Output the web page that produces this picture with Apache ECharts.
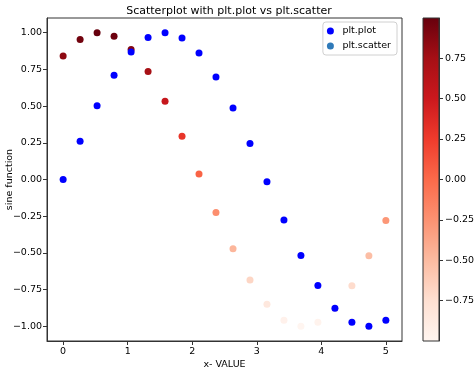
<!DOCTYPE html>
<html><head><meta charset="utf-8">
<script src="https://cdn.jsdelivr.net/npm/echarts@6/dist/echarts.min.js"></script>
<style>html,body{margin:0;padding:0;background:#fff}#c{width:474px;height:371px}</style>
</head><body><div id="c"></div>
<script>
const xValues = [0, 0.263, 0.526, 0.789, 1.053, 1.316, 1.579, 1.842, 2.105, 2.368, 2.632, 2.895, 3.158, 3.421, 3.684, 3.947, 4.211, 4.474, 4.737, 5.0];
const plotValues = [0, 0.260, 0.502, 0.710, 0.869, 0.968, 1.000, 0.964, 0.861, 0.698, 0.487, 0.245, -0.016, -0.276, -0.517, -0.722, -0.877, -0.972, -1.000, -0.959];
const scatterValues = [0.841, 0.953, 0.999, 0.976, 0.886, 0.735, 0.533, 0.295, 0.037, -0.225, -0.471, -0.684, -0.850, -0.958, -1.000, -0.973, -0.878, -0.724, -0.520, -0.279];
const xTicks = [0, 1, 2, 3, 4, 5];
const yTicks = [-1, -0.75, -0.5, -0.25, 0, 0.25, 0.5, 0.75, 1];
const cbTicks = [-0.75, -0.5, -0.25, 0, 0.25, 0.5, 0.75];
const redsColors = ['#fff5f0', '#fee0d2', '#fcbba1', '#fc9272', '#fb6a4a', '#ef3b2c', '#cb181d', '#a50f15', '#67000d'];

const cMin = Math.min(...scatterValues), cMax = Math.max(...scatterValues);
const fmt = v => (v < 0 ? '\u2212' : '') + Math.abs(v).toFixed(2);
const font = 'DejaVu Sans';
const chart = echarts.init(document.getElementById('c'));
const gradStops = redsColors.map((c, i) => ({offset: 1 - i / (redsColors.length - 1), color: c})).reverse();
const tickStyle = {show: true, inside: false, length: 4, lineStyle: {color: '#333', width: 1}};
const lineStyle = {show: true, onZero: false, lineStyle: {color: '#333', width: 1}};

chart.setOption({
  backgroundColor: '#fff',
  animation: false,
  textStyle: {fontFamily: font},
  title: {text: 'Scatterplot with plt.plot vs plt.scatter', left: 224, top: 1, textAlign: 'center',
    textStyle: {fontFamily: font, fontSize: 11, fontWeight: 'normal', color: '#000'}},
  grid: [
    {left: 47, right: 72, top: 18, bottom: 30, show: true, borderColor: '#333', borderWidth: 1, containLabel: false, outerBoundsMode: 'none'},
    {left: 423, width: 16, top: 18, bottom: 30, show: true, borderColor: '#333', borderWidth: 1, containLabel: false, outerBoundsMode: 'none',
     backgroundColor: {type: 'linear', x: 0, y: 0, x2: 0, y2: 1, colorStops: gradStops}}
  ],
  xAxis: [
    {type: 'value', gridIndex: 0, min: -0.25, max: 5.25, name: 'x- VALUE', nameLocation: 'middle', nameGap: 19, nameMoveOverlap: false,
     nameTextStyle: {fontFamily: font, fontSize: 9.5, color: '#000'},
     axisLine: lineStyle, splitLine: {show: false},
     axisTick: Object.assign({customValues: xTicks}, tickStyle),
     axisLabel: {fontFamily: font, fontSize: 9.5, color: '#000', margin: 6, customValues: xTicks, formatter: v => String(v)}},
    {type: 'value', gridIndex: 1, min: 0, max: 1, show: false}
  ],
  yAxis: [
    {type: 'value', gridIndex: 0, min: -1.1, max: 1.1, name: 'sine function', nameLocation: 'middle', nameGap: 32, nameRotate: 90, nameMoveOverlap: false,
     nameTextStyle: {fontFamily: font, fontSize: 9.5, color: '#000'},
     axisLine: lineStyle, splitLine: {show: false},
     axisTick: Object.assign({customValues: yTicks}, tickStyle),
     axisLabel: {fontFamily: font, fontSize: 9.5, color: '#000', margin: 5, customValues: yTicks, formatter: fmt}},
    {type: 'value', gridIndex: 1, position: 'right', min: cMin, max: cMax,
     axisLine: lineStyle, splitLine: {show: false},
     axisTick: Object.assign({customValues: cbTicks}, tickStyle),
     axisLabel: {fontFamily: font, fontSize: 9.5, color: '#000', margin: 6, customValues: cbTicks, formatter: fmt}}
  ],
  visualMap: {type: 'continuous', show: false, seriesIndex: 1, dimension: 1, min: cMin, max: cMax,
    inRange: {color: redsColors}},
  legend: {right: 77, top: 22, orient: 'vertical', icon: 'circle', itemWidth: 18, itemHeight: 7, itemGap: 5,
    padding: [4, 6, 4, 4], borderColor: '#d0d0d0', borderWidth: 1, borderRadius: 3, backgroundColor: '#fff',
    textStyle: {fontFamily: font, fontSize: 9.5, color: '#000', padding: [0, 0, 0, -2]},
    data: [{name: 'plt.plot', itemStyle: {color: '#0000ff'}}, {name: 'plt.scatter', itemStyle: {color: '#2f7ab9'}}]},
  series: [
    {name: 'plt.plot', type: 'scatter', xAxisIndex: 0, yAxisIndex: 0, symbolSize: 7, z: 3,
     itemStyle: {color: '#0000ff', opacity: 1}, data: xValues.map((x, i) => [x, plotValues[i]])},
    {name: 'plt.scatter', type: 'scatter', xAxisIndex: 0, yAxisIndex: 0, symbolSize: 7, z: 2,
     itemStyle: {opacity: 1}, data: xValues.map((x, i) => [x, scatterValues[i]])}
  ]
});
</script></body></html>
